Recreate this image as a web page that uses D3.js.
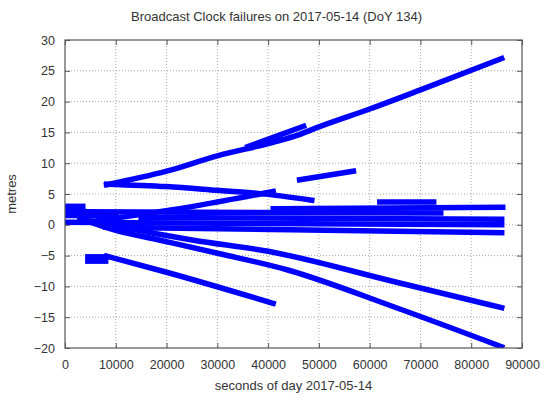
<!DOCTYPE html>
<html><head><meta charset="utf-8">
<script src="https://cdn.jsdelivr.net/npm/d3@7"></script>
<style>body{margin:0;background:#fff}svg{display:block}text{font-family:"Liberation Sans",Arial,sans-serif;fill:#333}</style>
</head><body>
<script>
const title = "Broadcast Clock failures on 2017-05-14 (DoY 134)";
const xLabel = "seconds of day 2017-05-14";
const yLabel = "metres";
const xTicks = [0,10000,20000,30000,40000,50000,60000,70000,80000,90000];
const yTicks = [-20,-15,-10,-5,0,5,10,15,20,25,30];

// each trace: [seconds, metres] points
const riseLong = [[8200,6.5],[20000,8.7],[30000,11.2],[41000,13.4],[46000,14.6],[50000,15.9],[60000,18.8],[70000,21.9],[86000,27.0]];
const riseShort = [[36000,12.7],[41000,14.2],[47000,16.0]];
const fallFrom8k = [[8200,6.6],[20000,6.2],[30000,5.6],[38000,5.1],[48600,4.0]];
const riseTo41k = [[5000,0.5],[26600,3.2],[41000,5.4]];
const riseMid = [[46200,7.3],[56800,8.7]];
const flat26 = [[41000,2.6],[86200,2.85]];
const flat37 = [[62000,3.7],[72600,3.7]];
const band1 = [[3500,2.1],[74000,1.9]];
const band2 = [[15000,1.2],[86000,0.9]];
const band3 = [[0,0.4],[86000,0.0]];
const band4 = [[8000,-0.4],[86000,-1.3]];
const blobTop = [[0,3.0],[3500,3.0]];
const blobMid = [[0,2.3],[3500,2.3]];
const blobLow = [[0,1.5],[10000,1.5]];
const fallTo13 = [[3000,1.0],[10000,-0.2],[25300,-2.5],[40000,-4.3],[64700,-9.2],[86000,-13.45]];
const fallTo20 = [[3000,1.0],[10000,-0.9],[18700,-2.5],[30500,-4.7],[43700,-7.3],[64700,-13.3],[86000,-19.8]];
const fallTo13b = [[8200,-5.1],[20000,-7.7],[41000,-12.75]];
const blobNeg1 = [[4500,-5.2],[8200,-5.2]];
const blobNeg2 = [[4500,-5.9],[8000,-5.9]];

const traces = [riseLong,riseShort,fallFrom8k,riseTo41k,riseMid,flat26,flat37,band1,band2,band3,band4,blobTop,blobMid,blobLow,fallTo13,fallTo20,fallTo13b,blobNeg1,blobNeg2];

const W=550,H=401, L=65,R=522,T=40,B=348;
const svg=d3.select("body").append("svg").attr("width",W).attr("height",H);
const x=d3.scaleLinear().domain([0,90000]).range([L,R]);
const y=d3.scaleLinear().domain([-20,30]).range([B,T]);

// grid
const g=svg.append("g");
g.selectAll(".gx").data(xTicks.slice(1,-1)).join("line").attr("x1",d=>x(d)).attr("x2",d=>x(d)).attr("y1",T).attr("y2",B)
 .attr("stroke","#a8a8a8").attr("stroke-width",1).attr("stroke-dasharray","1,2");
g.selectAll(".gy").data(yTicks.slice(1,-1)).join("line").attr("y1",d=>y(d)).attr("y2",d=>y(d)).attr("x1",L).attr("x2",R)
 .attr("stroke","#a8a8a8").attr("stroke-width",1).attr("stroke-dasharray","1,2");

// data
const clipId="clp";
svg.append("clipPath").attr("id",clipId).append("rect").attr("x",L).attr("y",T).attr("width",R-L).attr("height",B-T);
const line=d3.line().x(d=>x(d[0])).y(d=>y(d[1])).curve(d3.curveMonotoneX);
svg.append("g").attr("clip-path","url(#"+clipId+")").selectAll("path").data(traces).join("path")
 .attr("d",line).attr("fill","none").attr("stroke","#0000ff").attr("stroke-width",5.5).attr("stroke-linecap","square");

// axes with inward ticks, mirrored
const ax=svg.append("g");
ax.append("g").attr("transform",`translate(0,${B})`).call(d3.axisBottom(x).tickValues(xTicks).tickSizeInner(-5).tickSizeOuter(0).tickPadding(12).tickFormat(d3.format("d")));
ax.append("g").attr("transform",`translate(0,${T})`).call(d3.axisTop(x).tickValues(xTicks).tickSizeInner(-5).tickSizeOuter(0).tickFormat(""));
ax.append("g").attr("transform",`translate(${L},0)`).call(d3.axisLeft(y).tickValues(yTicks).tickSizeInner(-5).tickSizeOuter(0).tickPadding(10).tickFormat(d3.format("d")));
ax.append("g").attr("transform",`translate(${R},0)`).call(d3.axisRight(y).tickValues(yTicks).tickSizeInner(-5).tickSizeOuter(0).tickFormat(""));
ax.selectAll(".domain").remove();
ax.selectAll(".tick line").attr("stroke","#555");
ax.selectAll(".tick text").attr("font-size","12.5px").attr("fill","#333").attr("font-family","Liberation Sans, Arial, sans-serif");
svg.append("rect").attr("x",L).attr("y",T).attr("width",R-L).attr("height",B-T).attr("fill","none").attr("stroke","#555").attr("stroke-width",1.2);

svg.append("text").attr("x",(L+R)/2-17).attr("y",21).attr("text-anchor","middle").attr("font-size","13px").text(title);
svg.append("text").attr("x",(L+R)/2).attr("y",390).attr("text-anchor","middle").attr("font-size","13px").text(xLabel);
svg.append("text").attr("transform",`translate(16,${(T+B)/2}) rotate(-90)`).attr("text-anchor","middle").attr("font-size","13px").text(yLabel);
</script>
</body></html>
